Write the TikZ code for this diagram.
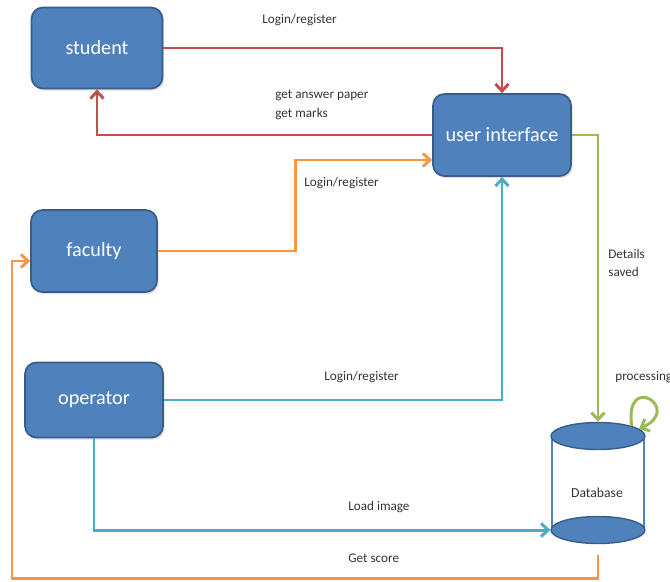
\documentclass[tikz,border=0pt]{standalone}
\usepackage{fontspec}
\setmainfont{Carlito}
\usetikzlibrary{arrows.meta,shapes.geometric,shadows}

\definecolor{boxblue}{HTML}{4F81BD}
\definecolor{boxedge}{HTML}{385D8A}
\definecolor{redline}{HTML}{C0504D}
\definecolor{orangeline}{HTML}{F79646}
\definecolor{blueline}{HTML}{4BACC6}
\definecolor{greenline}{HTML}{9BBB59}
\definecolor{lblgray}{HTML}{333333}

\begin{document}
\begin{tikzpicture}[
  x=0.02cm, y=-0.02cm,
  box/.style={draw=boxedge, line width=1pt, fill=boxblue, rounded corners=6.5pt, text=white,
    font=\fontsize{11.5}{13}\selectfont, drop shadow={opacity=0.25, shadow xshift=1pt, shadow yshift=-1.2pt}},
  arrow/.style={line width=1.7pt, -{Straight Barb[length=4pt, width=7.5pt]}},
  lbl/.style={font=\fontsize{7.5}{10.3}\selectfont, text=lblgray, align=left, inner sep=0pt, anchor=west},
  dbend/.style={ellipse, draw=boxedge, fill=boxblue, line width=0.8pt, minimum width=1.88cm,
    minimum height=0.54cm, inner sep=0pt},
  dbside/.style={draw=boxblue, line width=0.6pt}
]
\useasboundingbox (0,0) rectangle (670,582);

% Actors
\node[box, minimum width=2.62cm, minimum height=1.62cm] (student)  at (97,48)   {student};
\node[box, minimum width=2.76cm, minimum height=1.64cm] (ui)       at (502,135) {user interface};
\node[box, minimum width=2.52cm, minimum height=1.64cm] (faculty)  at (94,251)  {faculty};
\node[box, minimum width=2.76cm, minimum height=1.50cm] (operator) at (94,400)  {operator};

% Database cylinder
\draw[dbside] (552,436) -- (552,530);
\draw[dbside] (644,436) -- (644,530);
\node[dbend] (dbtop) at (598,436) {};
\node[dbend] (dbbot) at (598,530) {};
\node[lbl, anchor=center, font=\fontsize{7.8}{10}\selectfont] (db) at (597,493) {Database};
\coordinate (scoreout) at (598,555);

% Student <-> user interface
\draw[arrow, redline] (student.east) -| (ui.north);
\draw[arrow, redline] (ui.west) -| (student.south);
\node[lbl] (l1) at (262,20) {Login/register};
\node[lbl] (l2) at (275,105) {get answer paper\\get marks};

% Faculty
\draw[arrow, orangeline] (faculty.east) -- ++(138,0) |- ([yshift=-0.5cm]ui.west);
\node[lbl] (l3) at (304,183) {Login/register};

% Operator
\draw[arrow, blueline] (operator.east) -| (ui.south);
\node[lbl] (l4) at (324,377) {Login/register};
\draw[arrow, blueline] (operator.south) |- (dbbot.west);
\node[lbl] (l5) at (348,507) {Load image};

% Score back to faculty
\draw[arrow, orangeline] (scoreout) |- (12,578) |- ([yshift=-0.2cm]faculty.west);
\node[lbl] (l6) at (348,558) {Get score};

% Details saved and processing
\draw[arrow, greenline] (ui.east) -| (dbtop.north);
\node[lbl] (l7) at (608,263) {Details\\saved};
\draw[arrow, greenline] (dbtop.north east) .. controls +(-8,-55) and +(45,-20) .. (dbtop.10);
\node[lbl] (l8) at (615,377) {processing};

\end{tikzpicture}
\end{document}
